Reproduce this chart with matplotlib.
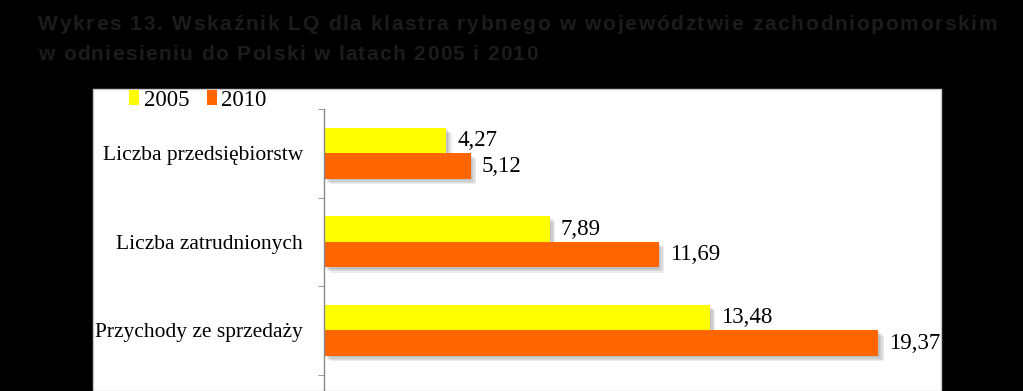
import numpy as np
import matplotlib
matplotlib.use("Agg")
import matplotlib.pyplot as plt
import matplotlib.patches as mpatches
import matplotlib.patheffects as pe

# dane z wykresu
kategorie = ["Liczba przedsiębiorstw", "Liczba zatrudnionych", "Przychody ze sprzedaży"]
lq_2005 = [4.27, 7.89, 13.48]
lq_2010 = [5.12, 11.69, 19.37]
lata = ["2005", "2010"]
kolory = ["#FFFF00", "#FF6600"]

tytul_1 = "Wykres 13. Wskaźnik LQ dla klastra rybnego w województwie zachodniopomorskim"
tytul_2 = "w odniesieniu do Polski w latach 2005 i 2010"

W, H = 1023, 391
fig = plt.figure(figsize=(W / 100, H / 100), dpi=100, facecolor="black")
renderer = fig.canvas.get_renderer()


def szerokosci(s, **kw):
    # szerokosc kazdego znaku w pikselach
    out = []
    for ch in s:
        if ch == " ":
            a = fig.text(0, 0, "a a", **kw)
            b = fig.text(0, 0, "aa", **kw)
            out.append(a.get_window_extent(renderer).width - b.get_window_extent(renderer).width)
            a.remove()
            b.remove()
        else:
            t = fig.text(0, 0, ch, **kw)
            out.append(t.get_window_extent(renderer).width)
            t.remove()
    return out


def tekst_rozstrzelony(x_px, base_px, s, extra_px, **kw):
    x = x_px
    for ch, dw in zip(s, szerokosci(s, **kw)):
        if ch != " ":
            fig.text(x / W, 1 - base_px / H, ch, va="baseline", ha="left", **kw)
        x += dw + extra_px


styl = dict(family="Liberation Sans", fontsize=15, fontweight="bold", color="#1c1c1c")
w1 = sum(szerokosci(tytul_1, **styl))
odstep = (997 - 38 - w1) / (len(tytul_1) - 1)
tekst_rozstrzelony(38, 30, tytul_1, odstep, **styl)
tekst_rozstrzelony(38, 60, tytul_2, odstep * 0.8, **styl)

# biale pole wykresu
panel = mpatches.Rectangle((93 / W, 0), 848 / W, (H - 89) / H, transform=fig.transFigure,
                           facecolor="white", edgecolor="#c8c8c8", linewidth=1, zorder=-1)
fig.patches.append(panel)

ax = fig.add_axes([324 / W, 0, 601 / W, (H - 109) / H])
ax.set_zorder(1)
ax.set_facecolor("none")

y = np.arange(len(kategorie))
h = 0.288
cien = [pe.SimplePatchShadow(offset=(d, -d), shadow_rgbFace="#707070", alpha=0.13)
        for d in (1, 2, 3, 4)] + [pe.Normal()]
b1 = ax.barh(y - h / 2, lq_2005, height=h, color=kolory[0], label=lata[0], path_effects=cien)
b2 = ax.barh(y + h / 2, lq_2010, height=h, color=kolory[1], label=lata[1], path_effects=cien)

for bars, vals in ((b1, lq_2005), (b2, lq_2010)):
    for bar, v in zip(bars, vals):
        ax.annotate(f"{v:.2f}".replace(".", ","),
                    (bar.get_width(), bar.get_y() + bar.get_height() / 2),
                    xytext=(8, 0), textcoords="offset points", va="center", ha="left",
                    family="Liberation Serif", fontsize=16.5, color="black")

ax.set_xlim(0, 21)
ax.set_ylim(2.686, -0.5)
ax.xaxis.set_visible(False)
for s in ("top", "right", "bottom"):
    ax.spines[s].set_visible(False)
ax.spines["left"].set_color("#888888")
ax.spines["left"].set_linewidth(1)

ax.set_yticks(y)
ax.set_yticklabels(kategorie, family="Liberation Serif", fontsize=15.5)
ax.tick_params(axis="y", which="major", length=0, pad=15)
ax.set_yticks(np.arange(len(kategorie) + 1) - 0.5, minor=True)
ax.tick_params(axis="y", which="minor", length=4.5, color="#888888", direction="out")

leg = ax.legend(loc="center left", bbox_to_anchor=(129 / W, 1 - 100 / H),
                bbox_transform=fig.transFigure, ncol=2, frameon=False,
                prop={"family": "Liberation Serif", "size": 16.5},
                handlelength=0.45, handleheight=0.6, handletextpad=0.2,
                columnspacing=0.75, borderaxespad=0, borderpad=0)
for hdl in leg.legend_handles:
    hdl.set_path_effects([])

fig.savefig("out.png", dpi=100, facecolor="black")
